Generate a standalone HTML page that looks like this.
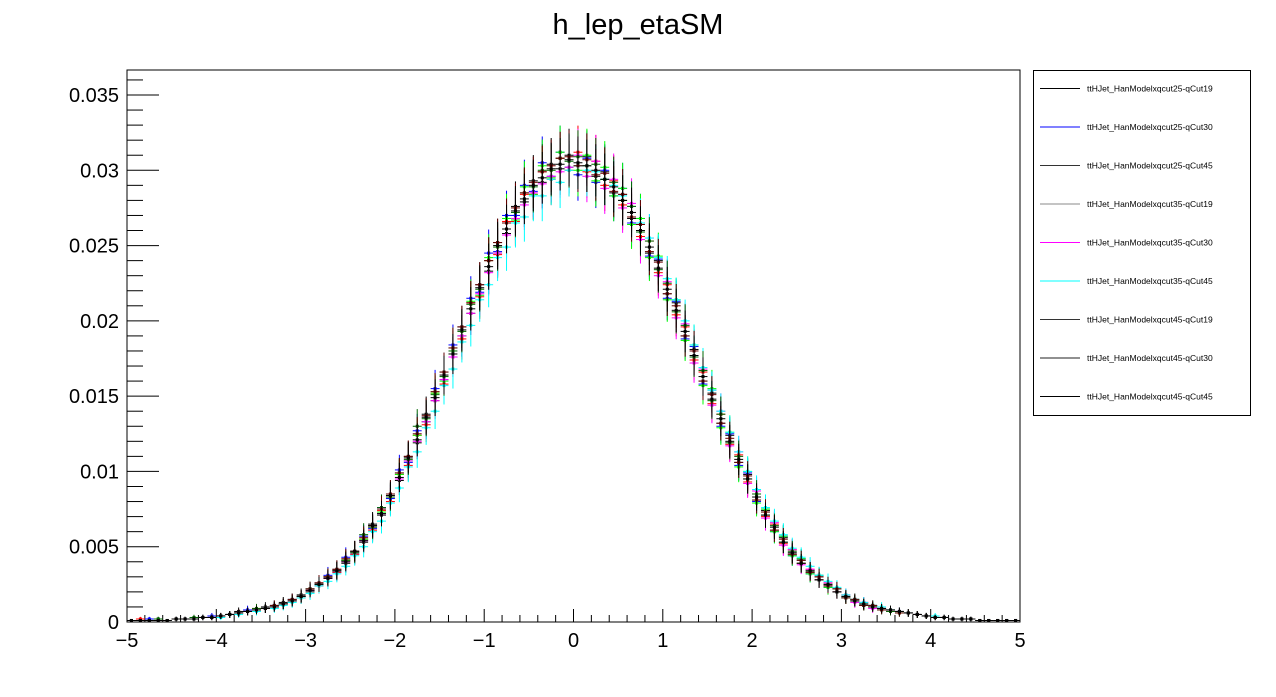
<!DOCTYPE html>
<html><head><meta charset="utf-8"><style>
body{margin:0;background:#fff;width:1276px;height:692px;overflow:hidden;font-family:"Liberation Sans",sans-serif}
</style></head><body>
<svg id="c" width="1276" height="692" xmlns="http://www.w3.org/2000/svg" font-family="Liberation Sans, sans-serif">
<text x="638" y="34" font-size="29" text-anchor="middle">h_lep_etaSM</text>
<rect x="127" y="70" width="893" height="552" fill="none" stroke="#000" stroke-width="1"/>
<g id="axes"></g><g id="marks"></g>
<g id="legend"><rect x="1033.5" y="70.5" width="217" height="345" fill="#fff" stroke="#000"/></g>
</svg>
<script>
const seriesNames=["ttHJet_HanModelxqcut25-qCut19","ttHJet_HanModelxqcut25-qCut30","ttHJet_HanModelxqcut25-qCut45","ttHJet_HanModelxqcut35-qCut19","ttHJet_HanModelxqcut35-qCut30","ttHJet_HanModelxqcut35-qCut45","ttHJet_HanModelxqcut45-qCut19","ttHJet_HanModelxqcut45-qCut30","ttHJet_HanModelxqcut45-qCut45"];
const seriesColors=["#000000","#0000ff","#ff0000","#00ff00","#ff00ff","#00ffff","#006600","#660000","#000000"];
const legendColors=["#000000","#0000ff","#333333","#888888","#ff00ff","#00ffff","#333333","#222222","#000000"];
const s1=[1,1,1,2,1,2,2,3,3,3,4,5,7,7,8,10,10,13,14,18,20,26,29,35,39,47,53,65,71,85,94,110,119,138,147,166,176,196,205,224,233,252,258,276,279,293,292,304,301,310,303,309,296,299,285,284,268,265,245,240,218,212,190,181,160,152,132,124,106,98,81,74,61,56,45,41,33,30,24,22,16,15,11,11,8,8,6,6,5,4,3,3,2,2,2,1,1,1,1,1];
const s2=[1,1,2,1,1,2,2,2,3,4,4,5,6,8,8,9,11,12,15,17,22,24,31,33,43,45,57,62,76,82,101,106,127,133,155,161,184,190,215,219,245,246,270,270,290,286,305,296,312,302,297,308,292,300,283,288,265,268,243,241,215,213,188,183,158,154,130,125,104,99,80,75,60,57,44,42,32,31,23,22,16,15,11,11,8,8,7,6,5,4,3,3,2,2,2,1,1,1,1,1];
const s3=[1,2,1,1,1,2,2,2,3,3,4,5,6,7,9,9,10,12,14,16,21,24,30,33,41,45,55,61,74,80,98,104,124,131,152,158,182,188,212,216,240,244,266,266,284,284,299,294,308,300,312,299,306,290,293,277,276,256,253,232,224,204,196,174,166,145,138,118,111,93,85,70,65,52,48,39,35,28,26,20,18,14,13,10,9,7,7,6,5,4,3,3,2,2,2,1,1,1,1,1];
const s4=[1,1,1,1,1,2,2,2,3,3,4,5,6,7,8,9,10,12,14,17,22,25,30,34,41,46,55,63,73,83,98,107,124,133,152,160,182,190,213,217,242,245,268,267,289,284,303,295,312,302,300,310,293,302,283,288,264,268,242,243,214,214,187,184,157,155,129,126,103,100,79,75,60,57,44,42,32,31,23,22,16,15,11,11,8,8,6,6,5,4,3,3,2,2,2,1,1,1,1,1];
const s5=[1,1,1,1,1,2,2,2,3,3,4,5,6,7,8,9,10,12,14,17,21,25,29,34,40,46,54,63,72,83,95,107,120,133,147,161,176,190,205,218,232,245,257,268,277,285,291,296,299,302,310,296,306,288,294,275,278,254,255,230,226,202,198,172,168,144,140,117,113,92,87,69,66,51,48,38,35,28,26,20,18,13,13,9,9,7,7,6,5,4,3,3,2,2,2,1,1,1,1,1];
const s6=[1,1,1,1,1,2,2,2,3,3,3,5,5,7,7,9,9,11,13,16,19,24,27,32,37,44,50,60,67,79,89,103,113,129,140,157,168,186,197,214,224,242,249,265,269,283,283,294,292,300,303,300,299,294,290,283,276,265,255,242,228,214,200,184,169,154,140,126,113,100,88,76,67,58,49,43,37,31,27,23,18,15,13,11,10,8,7,6,5,4,4,3,2,2,2,1,1,1,1,1];
const s7=[1,1,1,2,1,2,2,3,3,3,4,5,6,7,9,9,11,12,15,17,22,25,30,34,41,46,58,63,76,83,99,108,130,135,151,163,180,193,211,221,240,249,265,272,285,289,300,300,308,306,309,303,304,294,292,280,276,259,253,234,225,206,197,176,167,147,138,119,110,95,85,71,64,53,47,39,34,28,25,20,17,14,12,10,9,7,7,6,5,4,3,3,2,2,2,1,1,1,1,1];
const s8=[1,1,1,1,1,2,2,2,3,3,4,5,6,7,8,9,11,12,15,17,22,26,30,35,42,47,56,64,75,85,99,110,125,137,153,166,182,196,212,224,240,252,265,275,285,292,299,303,308,309,303,307,297,298,286,284,269,264,246,239,218,210,190,180,160,151,132,122,106,97,81,73,61,55,45,41,33,30,24,22,16,15,11,11,8,8,6,6,5,4,3,3,2,2,2,1,1,1,1,1];
const s9=[1,1,1,1,1,2,2,2,3,3,4,5,6,7,8,9,10,12,14,17,21,25,29,34,40,47,54,64,72,84,96,109,121,136,149,164,178,194,208,222,236,250,261,273,281,290,295,301,304,307,305,303,300,294,289,280,272,260,249,235,221,207,193,177,163,148,135,120,108,95,83,71,63,53,46,39,34,28,25,20,17,14,12,10,9,8,7,6,5,4,3,3,2,2,2,1,1,1,1,1];
const seriesValues=[s1,s2,s3,s4,s5,s6,s7,s8,s9]; // units of 1e-4
const yTickLabels=["0","0.005","0.01","0.015","0.02","0.025","0.03","0.035"];
const yTickValues=[0,0.005,0.01,0.015,0.02,0.025,0.03,0.035];
const xTickValues=[-5,-4,-3,-2,-1,0,1,2,3,4,5];
const xMin=-5,xMax=5,nBins=100;

const NS="http://www.w3.org/2000/svg";
const X=v=>127+(v-xMin)/(xMax-xMin)*893;
const Y=v=>622-v/0.035*527;
function mk(tag,attrs,parent){const e=document.createElementNS(NS,tag);for(const k in attrs)e.setAttribute(k,attrs[k]);parent.appendChild(e);return e;}
const ax=document.getElementById('axes'),mg=document.getElementById('marks'),lg=document.getElementById('legend');
for(let i=0;i<=36;i++){const v=i*0.001;const minor=i%5!==0;const t=mk('line',{x1:127,x2:127+(minor?16:32),y1:Y(v),y2:Y(v),stroke:'#000'},ax);

}
yTickValues.forEach((v,i)=>{const t=mk('text',{x:119,y:Y(v)+7,'font-size':20,'text-anchor':'end'},ax);t.textContent=yTickLabels[i];

});
for(let i=0;i<=50;i++){const v=xMin+i*0.2;const major=i%5===0;const t=mk('line',{x1:X(v),x2:X(v),y1:622,y2:622-(major?13:7),stroke:'#000'},ax);

}
xTickValues.forEach(v=>{const t=mk('text',{x:X(v),y:647,'font-size':20,'text-anchor':'middle'},ax);t.textContent=v<0?'\u2212'+(-v):String(v);

});
const bw=(xMax-xMin)/nBins;
seriesValues.forEach((arr,si)=>{const g=mk('g',{stroke:seriesColors[si],fill:seriesColors[si],'stroke-width':1},mg);


arr.forEach((val,b)=>{const v=val*1e-4;const lo=xMin+b*bw;const cx=X(lo+bw/2);const err=1.0*Math.sqrt(val)*1e-4;
const h=mk('line',{x1:X(lo),x2:X(lo+bw),y1:Y(v),y2:Y(v)},g);


const e=mk('line',{x1:cx,x2:cx,y1:Y(v+err),y2:Y(Math.max(0,v-err))},g);


const d=mk('rect',{x:cx-1.5,y:Y(v)-1.5,width:3,height:3,stroke:'none'},g);

});});
seriesNames.forEach((n,i)=>{const y=88.5+i*38.5;const g=mk('g',{},lg);


mk('line',{x1:1040,x2:1080,y1:y,y2:y,stroke:legendColors[i]},g);
const t=mk('text',{x:1087,y:y+3,'font-size':8.5},g);t.textContent=n;});
</script>
</body></html>
